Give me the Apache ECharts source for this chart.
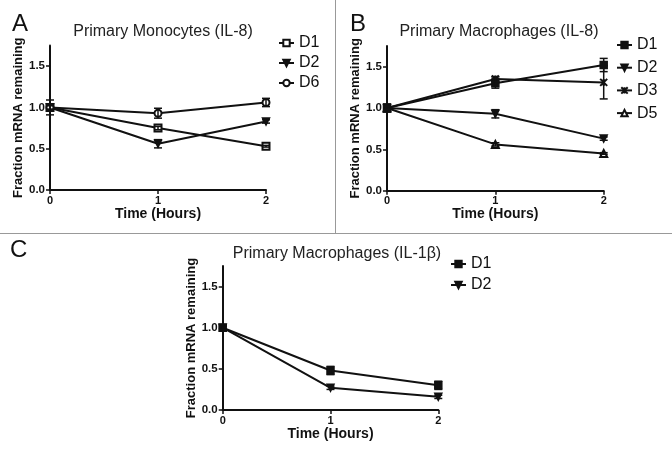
<!DOCTYPE html>
<html><head><meta charset="utf-8">
<script src="https://cdn.jsdelivr.net/npm/echarts@6/dist/echarts.min.js"></script>
<style>html,body{margin:0;padding:0;background:#fff}#c{width:672px;height:456px}</style>
</head><body><div id="c"></div>
<script>
const times = [0, 1, 2];
const yTicks = [0, 0.5, 1.0, 1.5];
const xTicks = [0, 1, 2];

// Panel A: Primary Monocytes (IL-8)
const A_D1 = [1.0, 0.75, 0.53];
const A_D1_err = [0.02, 0.02, 0.01];
const A_D2 = [1.0, 0.56, 0.83];
const A_D2_err = [0.03, 0.05, 0.02];
const A_D6 = [1.0, 0.93, 1.06];
const A_D6_err = [0.09, 0.06, 0.05];

// Panel B: Primary Macrophages (IL-8)
const B_D1 = [1.0, 1.30, 1.52];
const B_D1_err = [0.05, 0.06, 0.08];
const B_D2 = [1.0, 0.93, 0.63];
const B_D2_err = [0.03, 0.05, 0.02];
const B_D3 = [1.0, 1.35, 1.31];
const B_D3_err = [0.03, 0.03, 0.20];
const B_D5 = [1.0, 0.56, 0.45];
const B_D5_err = [0.02, 0.02, 0.01];

// Panel C: Primary Macrophages (IL-1β)
const C_D1 = [1.0, 0.48, 0.30];
const C_D1_err = [0.04, 0.05, 0.05];
const C_D2 = [1.0, 0.27, 0.16];
const C_D2_err = [0.02, 0.02, 0.02];

const FONT = 'Liberation Sans, Arial, sans-serif';
const INK = '#111';

function pts(vals) { return times.map((t, i) => [t, vals[i]]); }
function errPts(vals, errs) { return times.map((t, i) => [t, vals[i], errs[i]]); }

function lineSeries(name, vals, idx, symbol, opts) {
  return Object.assign({
    type: 'line', name: name, xAxisIndex: idx, yAxisIndex: idx,
    data: pts(vals), symbol: symbol, symbolSize: 7,
    lineStyle: { color: INK, width: 2 },
    itemStyle: { color: INK, borderColor: INK, borderWidth: 1.5 },
    z: 3, animation: false
  }, opts || {});
}
function errSeries(vals, errs, idx) {
  return {
    type: 'custom', xAxisIndex: idx, yAxisIndex: idx, data: errPts(vals, errs),
    animation: false, silent: true, z: 4,
    renderItem: function (params, api) {
      const x = api.value(0), y = api.value(1), e = api.value(2);
      const t = api.coord([x, y + e]), b = api.coord([x, y - e]);
      const w = 4;
      const st = { stroke: INK, lineWidth: 1.5 };
      return { type: 'group', children: [
        { type: 'line', shape: { x1: t[0], y1: t[1], x2: b[0], y2: b[1] }, style: st },
        { type: 'line', shape: { x1: t[0] - w, y1: t[1], x2: t[0] + w, y2: t[1] }, style: st },
        { type: 'line', shape: { x1: b[0] - w, y1: b[1], x2: b[0] + w, y2: b[1] }, style: st }
      ]};
    }
  };
}

const grids = [
  { left: 50, top: 45.5, width: 216, height: 144.5 },
  { left: 387, top: 46, width: 216.7, height: 144.7 },
  { left: 222.7, top: 266, width: 215.6, height: 144 }
];

function xAxis(idx) {
  return {
    type: 'value', gridIndex: idx, min: 0, max: 2, interval: 1,
    name: 'Time (Hours)', nameLocation: 'middle', nameGap: 16,
    nameTextStyle: { fontFamily: FONT, fontWeight: 'bold', fontSize: 14, color: INK },
    axisLine: { lineStyle: { color: INK, width: 2 } },
    axisTick: { show: true, length: 4, lineStyle: { color: INK, width: 1.5 } },
    axisLabel: { fontFamily: FONT, fontWeight: 'bold', fontSize: 11, color: INK, margin: 5 },
    splitLine: { show: false }
  };
}
function yAxis(idx) {
  return {
    type: 'value', gridIndex: idx, min: 0, max: 1.75,
    name: 'Fraction mRNA remaining', nameLocation: 'middle', nameGap: 25,
    nameTextStyle: { fontFamily: FONT, fontWeight: 'bold', fontSize: 13, color: INK },
    axisLine: { show: true, onZero: false, lineStyle: { color: INK, width: 2 } },
    axisTick: { show: true, length: 4, customValues: yTicks, lineStyle: { color: INK, width: 1.5 } },
    axisLabel: { fontFamily: FONT, fontWeight: 'bold', fontSize: 11.5, color: INK, margin: 5,
      customValues: yTicks, formatter: v => v.toFixed(1) },
    splitLine: { show: false }
  };
}

const downTri = { symbolRotate: 180 };
const starPath = 'path://M0,0L10,10M10,0L0,10M5,0L5,10';

function legend(left, top, names, gap) {
  return {
    left: left, top: top, orient: 'vertical', data: names, itemWidth: 15, itemHeight: 8,
    itemGap: gap, selectedMode: false, padding: 0,
    textStyle: { fontFamily: FONT, fontSize: 16, color: INK }
  };
}

const option = {
  animation: false,
  backgroundColor: '#fff',
  grid: grids,
  xAxis: [xAxis(0), xAxis(1), xAxis(2)],
  yAxis: [yAxis(0), yAxis(1), yAxis(2)],
  legend: [
    legend(278, 35, ['D1', 'D2', 'D6'], 4),
    legend(616, 37, ['D1 ', 'D2 ', 'D3 ', 'D5 '], 6.7),
    legend(450, 256, ['D1  ', 'D2  '], 5)
  ],
  series: [
    lineSeries('D1', A_D1, 0, 'emptyRect'),
    lineSeries('D2', A_D2, 0, 'triangle', downTri),
    lineSeries('D6', A_D6, 0, 'emptyCircle'),
    errSeries(A_D1, A_D1_err, 0), errSeries(A_D2, A_D2_err, 0), errSeries(A_D6, A_D6_err, 0),

    lineSeries('D1 ', B_D1, 1, 'rect'),
    lineSeries('D2 ', B_D2, 1, 'triangle', downTri),
    lineSeries('D3 ', B_D3, 1, starPath, { itemStyle: { color: INK, borderColor: INK, borderWidth: 2 } }),
    lineSeries('D5 ', B_D5, 1, 'emptyTriangle'),
    errSeries(B_D1, B_D1_err, 1), errSeries(B_D2, B_D2_err, 1), errSeries(B_D3, B_D3_err, 1), errSeries(B_D5, B_D5_err, 1),

    lineSeries('D1  ', C_D1, 2, 'rect'),
    lineSeries('D2  ', C_D2, 2, 'triangle', downTri),
    errSeries(C_D1, C_D1_err, 2), errSeries(C_D2, C_D2_err, 2)
  ],
  graphic: [
    { type: 'line', shape: { x1: 335.5, y1: 0, x2: 335.5, y2: 233.5 }, style: { stroke: '#999', lineWidth: 1 } },
    { type: 'line', shape: { x1: 0, y1: 233.5, x2: 672, y2: 233.5 }, style: { stroke: '#999', lineWidth: 1 } },
    { type: 'text', x: 12, y: 24, style: { text: 'A', font: '24px ' + FONT, fill: INK, textVerticalAlign: 'middle' } },
    { type: 'text', x: 350, y: 24, style: { text: 'B', font: '24px ' + FONT, fill: INK, textVerticalAlign: 'middle' } },
    { type: 'text', x: 10, y: 250, style: { text: 'C', font: '24px ' + FONT, fill: INK, textVerticalAlign: 'middle' } },
    { type: 'text', x: 163, y: 32, style: { text: 'Primary Monocytes (IL-8)', font: '16px ' + FONT, fill: '#222', textAlign: 'center', textVerticalAlign: 'middle' } },
    { type: 'text', x: 499, y: 32, style: { text: 'Primary Macrophages (IL-8)', font: '16px ' + FONT, fill: '#222', textAlign: 'center', textVerticalAlign: 'middle' } },
    { type: 'text', x: 337, y: 254, style: { text: 'Primary Macrophages (IL-1β)', font: '16px ' + FONT, fill: '#222', textAlign: 'center', textVerticalAlign: 'middle' } }
  ]
};
const chart = echarts.init(document.getElementById('c'), null, { renderer: 'canvas' });
chart.setOption(option);
</script></body></html>
